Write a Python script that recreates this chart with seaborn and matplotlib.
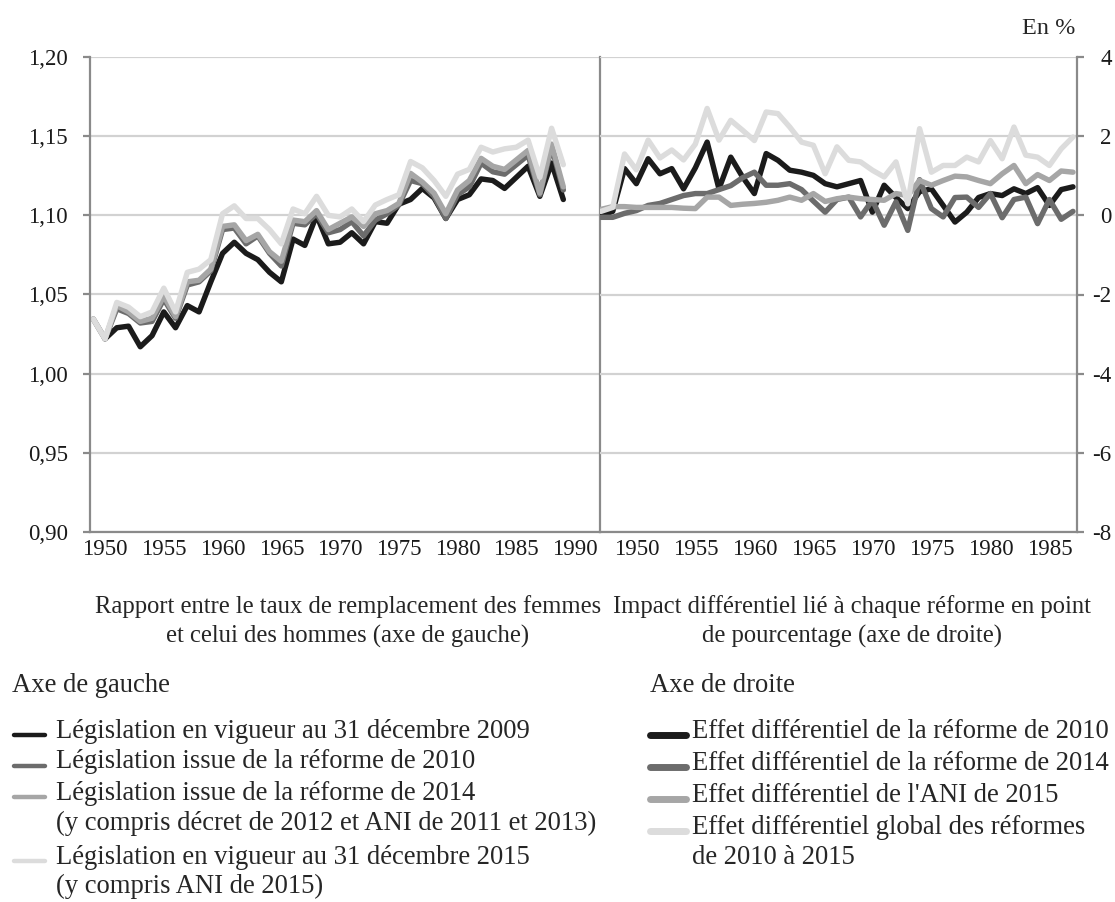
import numpy as np
import pandas as pd
import seaborn as sns
import matplotlib.pyplot as plt
from matplotlib.lines import Line2D

# axe de gauche : rapport taux de remplacement femmes / hommes
annees_g = list(range(1949, 1990))
leg_2009 = [np.nan, 1.022, 1.029, 1.030, 1.017, 1.024, 1.039, 1.029, 1.043, 1.039,
            1.058, 1.076, 1.083, 1.076, 1.072, 1.064, 1.058, 1.085, 1.081, 1.100,
            1.082, 1.083, 1.089, 1.082, 1.096, 1.095, 1.107, 1.110, 1.117, 1.111,
            1.098, 1.110, 1.113, 1.123, 1.122, 1.117, 1.124, 1.131, 1.112, 1.133,
            1.110]
leg_2010 = [1.0345, 1.022, 1.041, 1.038, 1.032, 1.033, 1.047, 1.035, 1.056, 1.058,
            1.065, 1.091, 1.092, 1.082, 1.087, 1.076, 1.068, 1.095, 1.094, 1.101,
            1.089, 1.091, 1.096, 1.087, 1.097, 1.101, 1.1065, 1.122, 1.120, 1.112,
            1.098, 1.113, 1.118, 1.133, 1.1275, 1.126, 1.132, 1.138, 1.113, 1.143,
            1.116]
leg_2014 = [1.0345, 1.022, 1.043, 1.039, 1.033, 1.035, 1.049, 1.036, 1.058, 1.059,
            1.066, 1.093, 1.094, 1.084, 1.088, 1.077, 1.071, 1.097, 1.096, 1.103,
            1.091, 1.095, 1.099, 1.093, 1.101, 1.103, 1.1075, 1.1265, 1.121, 1.114,
            1.101, 1.116, 1.122, 1.136, 1.131, 1.129, 1.135, 1.141, 1.114, 1.145,
            1.118]
leg_2015 = [1.0345, 1.022, 1.045, 1.042, 1.036, 1.039, 1.054, 1.039, 1.064, 1.066,
            1.072, 1.101, 1.106, 1.098, 1.098, 1.091, 1.082, 1.104, 1.101, 1.112,
            1.100, 1.099, 1.104, 1.096, 1.1065, 1.110, 1.113, 1.134, 1.130, 1.122,
            1.112, 1.126, 1.129, 1.143, 1.140, 1.142, 1.143, 1.1475, 1.124, 1.155,
            1.132]

# axe de droite : impact differentiel en points de pourcentage
annees_d = list(range(1947, 1988))
eff_2010 = [0.0, 0.1, 1.18, 0.8, 1.43, 1.05, 1.18, 0.67, 1.2, 1.85,
            0.67, 1.47, 0.97, 0.55, 1.56, 1.39, 1.14, 1.09, 1.01, 0.8,
            0.72, 0.8, 0.88, 0.08, 0.76, 0.45, 0.17, 0.6, 0.67, 0.25,
            -0.17, 0.08, 0.45, 0.55, 0.5, 0.67, 0.55, 0.7, 0.25, 0.65,
            0.72]
eff_2014 = [-0.05, -0.05, 0.05, 0.12, 0.25, 0.3, 0.4, 0.5, 0.55, 0.55,
            0.65, 0.75, 0.95, 1.09, 0.76, 0.76, 0.8, 0.65, 0.36, 0.08,
            0.4, 0.46, -0.04, 0.38, -0.25, 0.34, -0.38, 0.9, 0.17, -0.04,
            0.45, 0.46, 0.2, 0.55, -0.06, 0.4, 0.46, -0.21, 0.4, -0.1,
            0.1]
eff_ani = [0.15, 0.22, 0.22, 0.2, 0.2, 0.2, 0.2, 0.18, 0.17, 0.46,
           0.46, 0.25, 0.28, 0.3, 0.33, 0.38, 0.46, 0.38, 0.55, 0.35,
           0.42, 0.46, 0.42, 0.4, 0.38, 0.55, 0.5, 0.88, 0.76, 0.88,
           0.99, 0.97, 0.88, 0.8, 1.05, 1.26, 0.8, 1.03, 0.88, 1.12,
           1.09]
eff_global = [0.1, 0.2, 1.55, 1.15, 1.9, 1.45, 1.65, 1.4, 1.8, 2.7,
              1.9, 2.4, 2.15, 1.89, 2.61, 2.57, 2.23, 1.85, 1.77, 1.05,
              1.73, 1.39, 1.35, 1.14, 0.97, 1.35, 0.29, 2.19, 1.09, 1.26,
              1.26, 1.47, 1.35, 1.89, 1.43, 2.23, 1.52, 1.47, 1.26, 1.68,
              1.98]

noms_g = ["Législation en vigueur au 31 décembre 2009",
          "Législation issue de la réforme de 2010",
          "Législation issue de la réforme de 2014",
          "Législation en vigueur au 31 décembre 2015"]
noms_d = ["Effet différentiel de la réforme de 2010",
          "Effet différentiel de la réforme de 2014",
          "Effet différentiel de l'ANI de 2015",
          "Effet différentiel global des réformes"]
gris = ["#1b1b1b", "#6c6c6c", "#a6a6a6", "#dcdcdc"]

df_g = pd.DataFrame({"annee": annees_g, noms_g[0]: leg_2009, noms_g[1]: leg_2010,
                     noms_g[2]: leg_2014, noms_g[3]: leg_2015})
df_g = df_g.melt(id_vars="annee", var_name="serie", value_name="valeur").dropna()
df_d = pd.DataFrame({"annee": annees_d, noms_d[0]: eff_2010, noms_d[1]: eff_2014,
                     noms_d[2]: eff_ani, noms_d[3]: eff_global})
df_d = df_d.melt(id_vars="annee", var_name="serie", value_name="valeur")

sns.set_theme(style="white")
plt.rcParams["font.family"] = ["Liberation Serif", "DejaVu Serif"]
plt.rcParams["axes.unicode_minus"] = False

W, H = 1115, 902
fig = plt.figure(figsize=(W / 100, H / 100), dpi=100)
ax_g = fig.add_axes([90 / W, 1 - 532 / H, 510 / W, 475 / H])
ax_d = fig.add_axes([600 / W, 1 - 532 / H, 477 / W, 475 / H])

lw = 3.9
sns.lineplot(data=df_g, x="annee", y="valeur", hue="serie", hue_order=noms_g,
             palette=gris, linewidth=lw, legend=False, errorbar=None, ax=ax_g)
sns.lineplot(data=df_d, x="annee", y="valeur", hue="serie", hue_order=noms_d,
             palette=gris, linewidth=lw, legend=False, errorbar=None, ax=ax_d)

axe_col = "#8a8a8a"
grid_col = "#d2d2d2"
tick_fs = 16.5

ax_g.set_xlim(1948.72, 1992.12)
ax_g.set_ylim(0.90, 1.20)
ax_g.set_yticks(np.arange(0.90, 1.2001, 0.05))
ax_g.set_yticklabels([f"{v:.2f}".replace(".", ",") for v in np.arange(0.90, 1.2001, 0.05)])
ax_g.set_xticks(range(1950, 1991, 5))

ax_d.set_xlim(1946.92, 1987.34)
ax_d.set_ylim(-8, 4)
ax_d.set_yticks(range(-8, 5, 2))
ax_d.set_xticks(range(1950, 1986, 5))
ax_d.yaxis.tick_right()

for ax in (ax_g, ax_d):
    ax.set_xlabel("")
    ax.set_ylabel("")
    ax.grid(axis="y", color=grid_col, linewidth=1.6)
    ax.set_axisbelow(True)
    ax.spines["top"].set_visible(False)
    for s in ("left", "right", "bottom"):
        ax.spines[s].set_color(axe_col)
        ax.spines[s].set_linewidth(1.6)
    ax.tick_params(axis="x", length=0, pad=5, labelsize=tick_fs, labelcolor="#1a1a1a")
    ax.patch.set_alpha(0)

ax_d.spines["left"].set_visible(False)
ax_g.tick_params(axis="y", direction="out", length=5, width=1.6, color=axe_col,
                 pad=11, labelsize=tick_fs, labelcolor="#1a1a1a", left=True)
ax_d.tick_params(axis="y", direction="out", length=5, width=1.6, color=axe_col,
                 pad=20, labelsize=tick_fs, labelcolor="#1a1a1a", right=True, left=False)
for t in ax_d.get_yticklabels():
    t.set_horizontalalignment("right")

# textes
fig.text(1075 / W, 1 - 28 / H, "En %", ha="right", va="center", fontsize=17.5)
fig.text(348 / W, 1 - 607 / H, "Rapport entre le taux de remplacement des femmes",
         ha="center", va="center", fontsize=17.7)
fig.text(348 / W, 1 - 636 / H, "et celui des hommes (axe de gauche)",
         ha="center", va="center", fontsize=17.7)
fig.text(852 / W, 1 - 607 / H, "Impact différentiel lié à chaque réforme en point",
         ha="center", va="center", fontsize=17.7)
fig.text(852 / W, 1 - 636 / H, "de pourcentage (axe de droite)",
         ha="center", va="center", fontsize=17.7)

fs = 19.2


def entree(x0, x1, xt, y, col, w, lignes, pas=30):
    fig.add_artist(Line2D([x0 / W, x1 / W], [1 - (y + 4) / H, 1 - (y + 4) / H],
                          transform=fig.transFigure, color=col, linewidth=w,
                          solid_capstyle="round"))
    for k, txt in enumerate(lignes):
        fig.text(xt / W, 1 - (y + pas * k) / H, txt, ha="left", va="center", fontsize=fs)


fig.text(12 / W, 1 - 686 / H, "Axe de gauche", ha="left", va="center", fontsize=fs)
entree(14, 45, 56, 731, gris[0], 3.2, [noms_g[0]])
entree(14, 45, 56, 762, gris[1], 3.2, [noms_g[1]])
entree(14, 45, 56, 793, gris[2], 3.2, [noms_g[2], "(y compris décret de 2012 et ANI de 2011 et 2013)"])
entree(14, 45, 56, 857, gris[3], 3.2, [noms_g[3], "(y compris ANI de 2015)"], pas=29)

fig.text(650 / W, 1 - 686 / H, "Axe de droite", ha="left", va="center", fontsize=fs)
entree(650, 686, 692, 731, gris[0], 5, [noms_d[0]])
entree(650, 686, 692, 763, gris[1], 5, [noms_d[1]])
entree(650, 686, 692, 795, gris[2], 5, [noms_d[2]])
entree(650, 686, 692, 827, gris[3], 5, [noms_d[3], "de 2010 à 2015"], pas=31)

fig.savefig("out.png", dpi=100)
